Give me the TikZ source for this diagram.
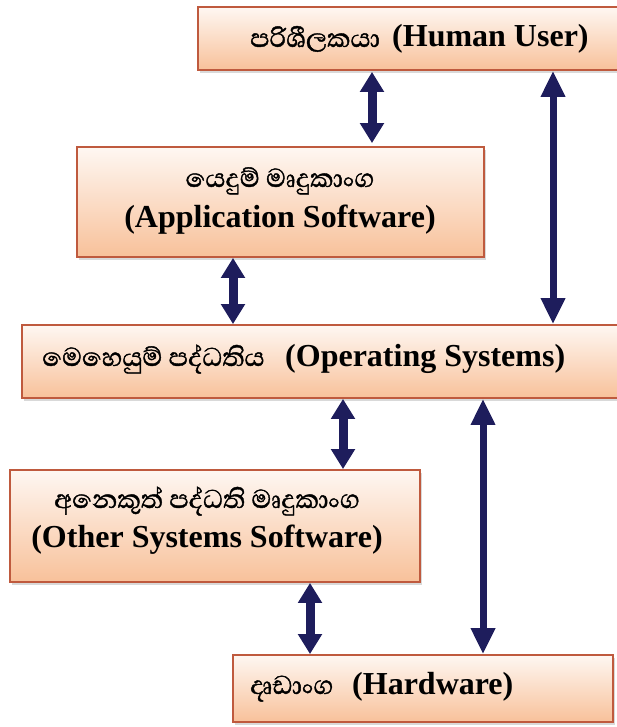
\documentclass[tikz,border=0pt]{standalone}
\usepackage{fontspec}
\setmainfont{Liberation Serif}
\newfontfamily\sinhalafnt[Script=Sinhala,FakeBold=1.2]{Abhaya Libre}
\usetikzlibrary{arrows.meta,shadows}
\definecolor{boxborder}{HTML}{BF5A3E}
\definecolor{boxtop}{HTML}{FEF7F2}
\definecolor{boxbot}{HTML}{F8C19A}
\definecolor{navy}{HTML}{1E1D5C}
\tikzset{
  layerbox/.style={draw=boxborder, line width=1.8pt, top color=boxtop, bottom color=boxbot,
    inner sep=0pt, drop shadow={shadow xshift=1.5pt, shadow yshift=-3pt, opacity=0.3}},
  entext/.style={font=\fontsize{32}{37}\selectfont\bfseries, inner sep=0pt},
  sitext/.style={font=\fontsize{33}{38}\selectfont\sinhalafnt, inner sep=0pt},
  dblarrow/.style={draw=navy, line width=9pt, {Triangle[width=23pt,length=20pt]}-{Triangle[width=23pt,length=20pt]}},
  longarrow/.style={draw=navy, line width=7pt, {Triangle[width=23pt,length=26pt]}-{Triangle[width=23pt,length=26pt]}},
}
\begin{document}
\begin{tikzpicture}[x=1pt,y=-1pt]
\useasboundingbox (0,0) rectangle (616,727);
% boxes
\node[layerbox, minimum width=424pt, minimum height=63pt] (user) at (410,38.5) {};
\node[layerbox, minimum width=407pt, minimum height=110pt] (app) at (280.5,202) {};
\node[layerbox, minimum width=600pt, minimum height=73pt] (os) at (322,361.5) {};
\node[layerbox, minimum width=410pt, minimum height=112pt] (other) at (215,526) {};
\node[layerbox, minimum width=380pt, minimum height=67pt] (hw) at (423,688.5) {};
% texts
\node[sitext, anchor=base west] (usersi) at (250,47) {පරිශීලකයා};
\node[entext, anchor=base west] (useren) at (392,47) {(Human User)};
\node[sitext, anchor=base] (appsi) at (280,187) {යෙදුම් මෘදුකාංග};
\node[entext, anchor=base] (appen) at (280,227) {(Application Software)};
\node[sitext, anchor=base west] (ossi) at (42,366) {මෙහෙයුම් පද්ධතිය};
\node[entext, anchor=base west] (osen) at (285,366) {(Operating Systems)};
\node[sitext, anchor=base] (othersi) at (207,508) {අනෙකුත් පද්ධති මෘදුකාංග};
\node[entext, anchor=base] (otheren) at (207,547) {(Other Systems Software)};
\node[sitext, anchor=base west] (hwsi) at (250,694) {දෘඩාංග};
\node[entext, anchor=base west] (hwen) at (352,694) {(Hardware)};
% arrow columns
\coordinate (xa) at (372,0);
\coordinate (xb) at (553,0);
\coordinate (xc) at (233,0);
\coordinate (xd) at (343,0);
\coordinate (xe) at (483,0);
\coordinate (xf) at (310,0);
% arrows
\draw[dblarrow, shorten <=1pt, shorten >=3pt] (xa |- user.south) -- (xa |- app.north);
\draw[longarrow] (xb |- user.south) -- (xb |- os.north);
\draw[dblarrow] (xc |- app.south) -- (xc |- os.north);
\draw[dblarrow] (xd |- os.south) -- (xd |- other.north);
\draw[longarrow] (xe |- os.south) -- (xe |- hw.north);
\draw[dblarrow] (xf |- other.south) -- (xf |- hw.north);
\end{tikzpicture}
\end{document}
